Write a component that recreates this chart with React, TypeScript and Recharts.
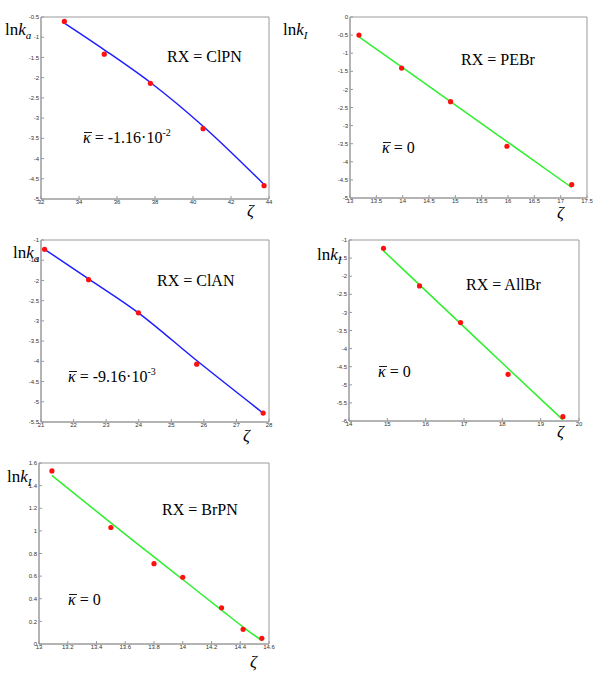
import { ComposedChart, Line, Scatter, XAxis, YAxis, ReferenceArea } from "recharts";

// ClPN
const clpnZeta = [33.23, 35.33, 37.76, 40.53, 43.74];
const clpnLnk = [-0.61, -1.42, -2.14, -3.26, -4.67];
const clpnFit = [-0.65, -1.31, -2.12, -3.2, -4.64];
const clpnXTicks = [32, 34, 36, 38, 40, 42, 44];
const clpnYTicks = [-5, -4.5, -4, -3.5, -3, -2.5, -2, -1.5, -1, -0.5];

// PEBr
const pebrZeta = [13.17, 13.98, 14.91, 15.98, 17.21];
const pebrLnk = [-0.5, -1.41, -2.34, -3.57, -4.63];
const pebrFit = [-0.55, -1.38, -2.34, -3.44, -4.71];
const pebrXTicks = [13, 13.5, 14, 14.5, 15, 15.5, 16, 16.5, 17, 17.5];
const pebrYTicks = [-5, -4.5, -4, -3.5, -3, -2.5, -2, -1.5, -1, -0.5, 0];

// ClAN
const clanZeta = [21.11, 22.46, 23.99, 25.78, 27.82];
const clanLnk = [-1.23, -1.98, -2.8, -4.07, -5.28];
const clanFit = [-1.23, -1.96, -2.8, -3.98, -5.28];
const clanXTicks = [21, 22, 23, 24, 25, 26, 27, 28];
const clanYTicks = [-5.5, -5, -4.5, -4, -3.5, -3, -2.5, -2, -1.5, -1];

// AllBr
const allbrZeta = [14.9, 15.84, 16.91, 18.15, 19.58];
const allbrLnk = [-1.23, -2.27, -3.28, -4.71, -5.88];
const allbrFit = [-1.3, -2.24, -3.31, -4.55, -5.97];
const allbrXTicks = [14, 15, 16, 17, 18, 19, 20];
const allbrYTicks = [-6, -5.5, -5, -4.5, -4, -3.5, -3, -2.5, -2, -1.5, -1];

// BrPN
const brpnZeta = [13.09, 13.5, 13.8, 14.0, 14.27, 14.42, 14.55];
const brpnLnk = [1.53, 1.03, 0.71, 0.59, 0.32, 0.13, 0.05];
const brpnFit = [1.49, 1.07, 0.77, 0.57, 0.3, 0.15, 0.03];
const brpnXTicks = [13, 13.2, 13.4, 13.6, 13.8, 14, 14.2, 14.4, 14.6];
const brpnYTicks = [0, 0.2, 0.4, 0.6, 0.8, 1, 1.2, 1.4, 1.6];

const titles = ["RX = ClPN", "RX = PEBr", "RX = ClAN", "RX = AllBr", "RX = BrPN"];
const kappaText = ["-1.16·10", "0", "-9.16·10", "0", "0"];
const kappaExp = ["-2", "", "-3", "", ""];
const ySubs = ["a", "I", "a", "I", "I"];

const BLUE = "#1e1eff";
const GREEN = "#2ef02e";

type Box = { left: number; top: number; right: number; bottom: number };

const YW = 22;
const XH = 12;

function Panel({
  box, zeta, lnk, fit, color, xTicks, yTicks,
}: {
  box: Box; zeta: number[]; lnk: number[]; fit: number[]; color: string; xTicks: number[]; yTicks: number[];
}) {
  const pts = zeta.map((x, i) => ({ x, y: lnk[i] }));
  const line = zeta.map((x, i) => ({ x, y: fit[i] }));
  const padL = 30, padT = 6, padR = 6, padB = 20;
  const xd: [number, number] = [xTicks[0], xTicks[xTicks.length - 1]];
  const yd: [number, number] = [yTicks[0], yTicks[yTicks.length - 1]];
  const tick = { fontSize: 6, fill: "#333", fontFamily: "Liberation Sans" };
  return (
    <div style={{ position: "absolute", left: box.left - padL, top: box.top - padT }}>
      <ComposedChart
        width={box.right - box.left + padL + padR}
        height={box.bottom - box.top + padT + padB}
        margin={{ left: padL - YW, top: padT, right: padR, bottom: padB - XH }}
      >
        <XAxis
          type="number"
          dataKey="x"
          domain={xd}
          ticks={xTicks}
          allowDataOverflow
          height={XH}
          tick={tick}
          tickSize={-3}
          tickMargin={4}
          stroke="#9a9a9a"
          interval={0}
        />
        <YAxis
          type="number"
          dataKey="y"
          domain={yd}
          ticks={yTicks}
          allowDataOverflow
          width={YW}
          tick={tick}
          tickSize={-3}
          tickMargin={5}
          stroke="#9a9a9a"
          interval={0}
        />
        <ReferenceArea x1={xd[0]} x2={xd[1]} y1={yd[0]} y2={yd[1]} fill="none" stroke="#9a9a9a" ifOverflow="visible" />
        <Line data={line} dataKey="y" type="monotone" stroke={color} strokeWidth={1.5} dot={false} isAnimationActive={false} />
        <Scatter
          data={pts}
          dataKey="y"
          isAnimationActive={false}
          shape={(p: any) => <circle cx={p.cx} cy={p.cy} r={2.6} fill="#ff1010" />}
        />
      </ComposedChart>
    </div>
  );
}

// annotation placement (px): ylabel, title, kappa, zeta
const notePos = [
  { yl: [5, 35], t: [167, 62], k: [83, 143], z: [247, 216] },
  { yl: [283, 35], t: [461, 65], k: [382, 153], z: [557, 218] },
  { yl: [13, 258], t: [157, 286], k: [68, 382], z: [243, 441] },
  { yl: [317, 260], t: [466, 290], k: [378, 377], z: [557, 437] },
  { yl: [7, 482], t: [162, 515], k: [68, 605], z: [250, 667] },
];

function Notes() {
  return (
    <svg
      width={600}
      height={673}
      style={{ position: "absolute", left: 0, top: 0, pointerEvents: "none" }}
      fontFamily="Liberation Serif"
      fill="#000"
    >
      {notePos.map((p, i) => (
        <g key={i}>
          <text x={p.yl[0]} y={p.yl[1]} fontSize={17}>
            ln<tspan fontStyle="italic">k</tspan>
            <tspan fontStyle="italic" fontSize={11} dy={4}>{ySubs[i]}</tspan>
          </text>
          <text x={p.t[0]} y={p.t[1]} fontSize={16}>{titles[i]}</text>
          <line x1={p.k[0] + 1} x2={p.k[0] + 9} y1={p.k[1] - 10.5} y2={p.k[1] - 10.5} stroke="#000" strokeWidth={0.9} />
          <text x={p.k[0]} y={p.k[1]} fontSize={16}>
            <tspan fontStyle="italic">κ</tspan>
            <tspan> = {kappaText[i]}</tspan>
            {kappaExp[i] && <tspan fontSize={10} dy={-7}>{kappaExp[i]}</tspan>}
          </text>
          <text x={p.z[0]} y={p.z[1]} fontSize={17} fontStyle="italic">ζ</text>
        </g>
      ))}
    </svg>
  );
}

export default function App() {
  return (
    <div style={{ position: "absolute", left: 0, top: 0, width: 600, height: 673, background: "#fff" }}>
      <Panel box={{ left: 41, top: 17, right: 269, bottom: 199 }} zeta={clpnZeta} lnk={clpnLnk} fit={clpnFit} color={BLUE} xTicks={clpnXTicks} yTicks={clpnYTicks} />
      <Panel box={{ left: 350, top: 17, right: 587, bottom: 198 }} zeta={pebrZeta} lnk={pebrLnk} fit={pebrFit} color={GREEN} xTicks={pebrXTicks} yTicks={pebrYTicks} />
      <Panel box={{ left: 41, top: 240, right: 269, bottom: 422 }} zeta={clanZeta} lnk={clanLnk} fit={clanFit} color={BLUE} xTicks={clanXTicks} yTicks={clanYTicks} />
      <Panel box={{ left: 349, top: 240, right: 579, bottom: 421 }} zeta={allbrZeta} lnk={allbrLnk} fit={allbrFit} color={GREEN} xTicks={allbrXTicks} yTicks={allbrYTicks} />
      <Panel box={{ left: 39, top: 463, right: 269, bottom: 644 }} zeta={brpnZeta} lnk={brpnLnk} fit={brpnFit} color={GREEN} xTicks={brpnXTicks} yTicks={brpnYTicks} />
      <Notes />
    </div>
  );
}
